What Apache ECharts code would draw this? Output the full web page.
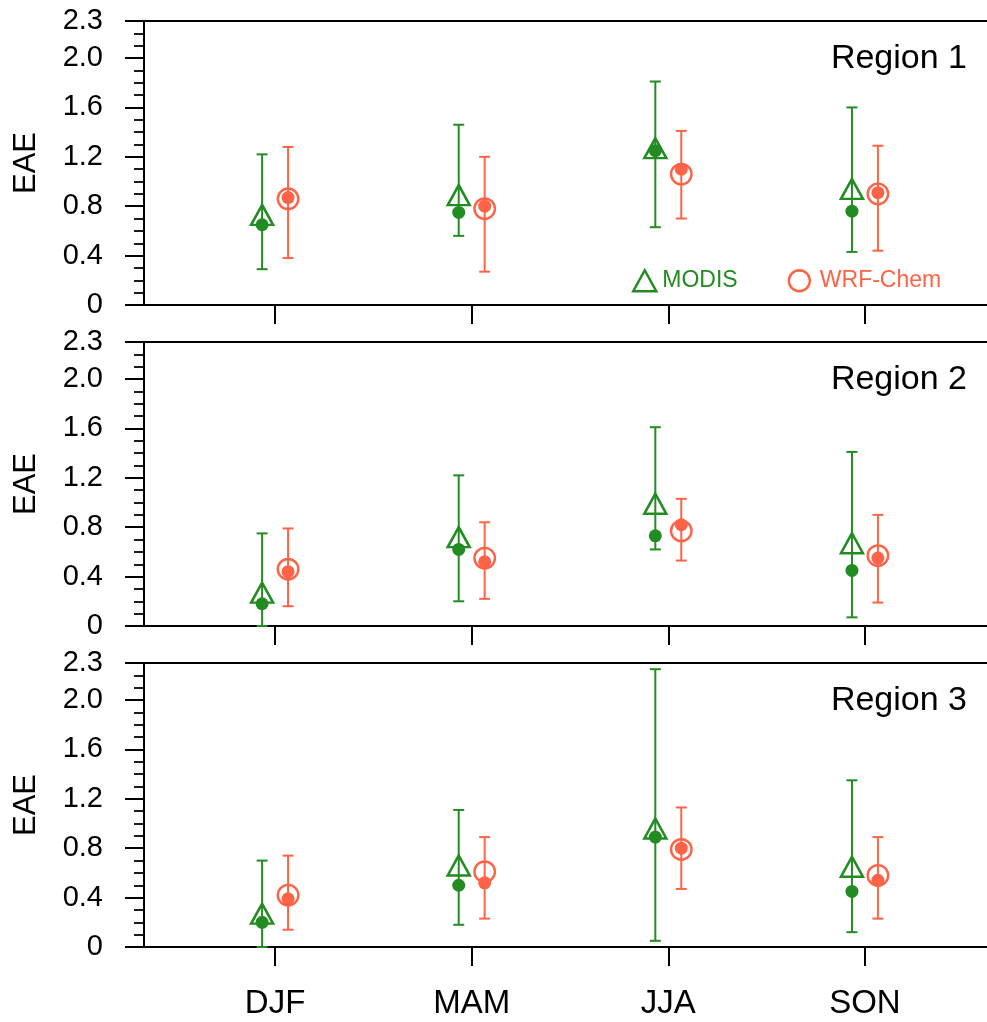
<!DOCTYPE html>
<html>
<head>
<meta charset="utf-8">
<script src="https://cdn.jsdelivr.net/npm/echarts@6/dist/echarts.min.js"></script>
<style>
  html, body { margin: 0; padding: 0; background: #fff; }
  #chart { width: 987px; height: 1022px; }
</style>
</head>
<body>
<div id="chart"></div>
<script>
// Seasons on the x axis and the three regions, one panel each
const seasons = ['DJF', 'MAM', 'JJA', 'SON'];
const regions = ['Region 1', 'Region 2', 'Region 3'];
const yMajorTicks = [0, 0.4, 0.8, 1.2, 1.6, 2.0, 2.3];

// MODIS: open triangle, filled dot, and whisker range (rows = regions, cols = seasons)
const modisMean = [[0.73, 0.89, 1.27, 0.94], [0.27, 0.72, 0.99, 0.67], [0.27, 0.66, 0.96, 0.65]];
const modisDot  = [[0.65, 0.75, 1.25, 0.76], [0.18, 0.62, 0.73, 0.45], [0.20, 0.50, 0.89, 0.45]];
const modisLow  = [[0.29, 0.56, 0.63, 0.43], [0.00, 0.20, 0.62, 0.07], [0.00, 0.18, 0.05, 0.12]];
const modisHigh = [[1.22, 1.46, 1.81, 1.60], [0.75, 1.22, 1.61, 1.41], [0.70, 1.11, 2.25, 1.35]];

// WRF-Chem: open circle, filled dot, and whisker range
const wrfMean = [[0.86, 0.78, 1.06, 0.90], [0.46, 0.55, 0.77, 0.57], [0.42, 0.61, 0.79, 0.58]];
const wrfDot  = [[0.87, 0.80, 1.10, 0.91], [0.44, 0.52, 0.82, 0.55], [0.39, 0.52, 0.80, 0.54]];
const wrfLow  = [[0.38, 0.27, 0.70, 0.44], [0.16, 0.22, 0.53, 0.19], [0.14, 0.23, 0.47, 0.23]];
const wrfHigh = [[1.28, 1.20, 1.41, 1.29], [0.79, 0.84, 1.03, 0.90], [0.74, 0.89, 1.13, 0.89]];

const GREEN = '#228B22';
const RED = '#FF6347';
const FONT = '"Liberation Sans", Arial, Helvetica, sans-serif';
const SHIFT = 0.066;           // side-by-side offset of the two products around each season

const panelTops = [21, 342, 663];
const panelHeight = 284;
const panelLeft = 144;
const panelWidth = 852;

function points(values, dx) {
  return values.map((v, i) => [i + 1 + dx, v]);
}
function ranges(lo, hi, dx) {
  return lo.map((v, i) => [i + 1 + dx, v, hi[i]]);
}
function whiskerRenderer(color) {
  return function (params, api) {
    const x = api.value(0);
    const top = api.coord([x, api.value(2)]);
    const bot = api.coord([x, api.value(1)]);
    const cap = 5.5;
    const style = { stroke: color, lineWidth: 2 };
    return {
      type: 'group',
      children: [
        { type: 'line', shape: { x1: top[0], y1: top[1], x2: bot[0], y2: bot[1] }, style },
        { type: 'line', shape: { x1: top[0] - cap, y1: top[1], x2: top[0] + cap, y2: top[1] }, style },
        { type: 'line', shape: { x1: bot[0] - cap, y1: bot[1], x2: bot[0] + cap, y2: bot[1] }, style }
      ]
    };
  };
}

const grids = [], xAxes = [], yAxes = [], series = [], titles = [];

regions.forEach((name, g) => {
  grids.push({
    left: panelLeft, top: panelTops[g], width: panelWidth, height: panelHeight,
    outerBoundsMode: 'none', containLabel: false,
    show: true, borderColor: '#000', borderWidth: 2, backgroundColor: 'transparent'
  });

  xAxes.push({
    type: 'value', gridIndex: g, min: 1 / 3, max: 14 / 3,
    axisLine: { show: true, lineStyle: { color: '#000', width: 2 } },
    axisTick: { show: true, inside: false, length: 19, customValues: [1, 2, 3, 4],
                lineStyle: { color: '#000', width: 2 } },
    axisLabel: { show: g === regions.length - 1, customValues: [1, 2, 3, 4],
                 formatter: v => seasons[Math.round(v) - 1],
                 margin: 40, fontFamily: FONT, fontSize: 33, color: '#000' },
    splitLine: { show: false }
  });

  // minor ticks every 0.1
  yAxes.push({
    type: 'value', gridIndex: g, min: 0, max: 2.3, interval: 0.1, position: 'left',
    axisLine: { show: true, lineStyle: { color: '#000', width: 2 } },
    axisTick: { show: true, inside: false, length: 10, lineStyle: { color: '#000', width: 1.8 } },
    axisLabel: { show: false },
    splitLine: { show: false }
  });
  // major ticks, labels and axis title
  yAxes.push({
    type: 'value', gridIndex: g, min: 0, max: 2.3, position: 'left',
    name: 'EAE', nameLocation: 'middle', nameGap: 102, nameRotate: 90,
    nameTextStyle: { fontFamily: FONT, fontSize: 31, color: '#000' },
    axisLine: { show: false },
    axisTick: { show: true, inside: false, length: 19, customValues: yMajorTicks,
                lineStyle: { color: '#000', width: 2 } },
    axisLabel: { show: true, customValues: yMajorTicks, margin: 41,
                 formatter: v => (v === 0 ? '0' : v.toFixed(1)),
                 fontFamily: FONT, fontSize: 29, color: '#000',
                 padding: [5, 0, 0, 0] },
    splitLine: { show: false }
  });

  const yIdx = g * 2;
  const common = { xAxisIndex: g, yAxisIndex: yIdx, silent: true, emphasis: { disabled: true } };

  series.push(Object.assign({
    type: 'custom', name: 'MODIS range', z: 2,
    renderItem: whiskerRenderer(GREEN),
    encode: { x: 0, y: [1, 2] },
    data: ranges(modisLow[g], modisHigh[g], -SHIFT)
  }, common));
  series.push(Object.assign({
    type: 'custom', name: 'WRF-Chem range', z: 2,
    renderItem: whiskerRenderer(RED),
    encode: { x: 0, y: [1, 2] },
    data: ranges(wrfLow[g], wrfHigh[g], SHIFT)
  }, common));
  series.push(Object.assign({
    type: 'scatter', name: 'MODIS', z: 3,
    symbol: 'triangle', symbolSize: [22, 20],
    itemStyle: { color: 'rgba(0,0,0,0)', borderColor: GREEN, borderWidth: 2.5, opacity: 1 },
    data: points(modisMean[g], -SHIFT)
  }, common));
  series.push(Object.assign({
    type: 'scatter', name: 'WRF-Chem', z: 3,
    symbol: 'circle', symbolSize: 20.5,
    itemStyle: { color: 'rgba(0,0,0,0)', borderColor: RED, borderWidth: 2.4, opacity: 1 },
    data: points(wrfMean[g], SHIFT)
  }, common));
  series.push(Object.assign({
    type: 'scatter', name: 'MODIS dot', z: 4,
    symbol: 'circle', symbolSize: 13,
    itemStyle: { color: GREEN, opacity: 1 },
    data: points(modisDot[g], -SHIFT)
  }, common));
  series.push(Object.assign({
    type: 'scatter', name: 'WRF-Chem dot', z: 4,
    symbol: 'circle', symbolSize: 13,
    itemStyle: { color: RED, opacity: 1 },
    data: points(wrfDot[g], SHIFT)
  }, common));

  titles.push({
    text: name, right: 20, top: panelTops[g] + 21, padding: 0,
    textStyle: { fontFamily: FONT, fontSize: 34, fontWeight: 'normal', color: '#000' }
  });
});

const chart = echarts.init(document.getElementById('chart'), null, { renderer: 'canvas' });
chart.setOption({
  animation: false,
  backgroundColor: '#fff',
  title: titles,
  grid: grids,
  xAxis: xAxes,
  yAxis: yAxes,
  legend: {
    left: 632, top: 269, padding: 0, itemGap: 50, itemWidth: 23, itemHeight: 21,
    selectedMode: false,
    textStyle: { fontFamily: FONT, fontSize: 23 },
    data: [
      { name: 'MODIS', icon: 'triangle',
        itemStyle: { color: 'rgba(0,0,0,0)', borderColor: GREEN, borderWidth: 2.5 },
        textStyle: { color: GREEN, padding: [0, 0, 0, 1] } },
      { name: 'WRF-Chem', icon: 'circle',
        itemStyle: { color: 'rgba(0,0,0,0)', borderColor: RED, borderWidth: 2.4 },
        textStyle: { color: RED, padding: [0, 0, 0, 4] } }
    ]
  },
  series: series
});
</script>
</body>
</html>
